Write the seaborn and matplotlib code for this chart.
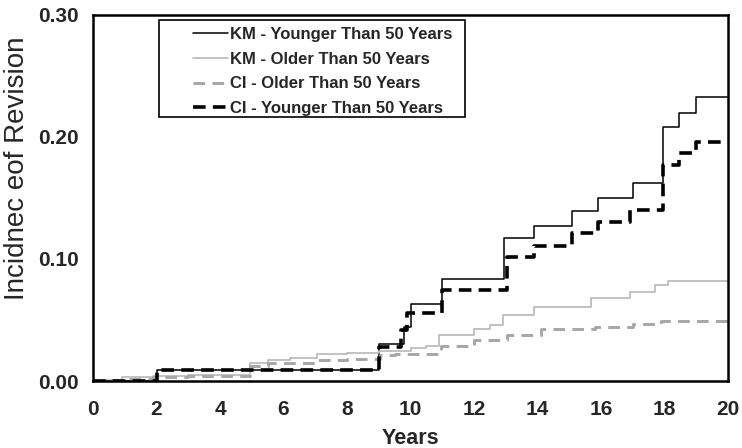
import matplotlib
matplotlib.use("Agg")
import matplotlib.pyplot as plt
import seaborn as sns
import pandas as pd
from matplotlib.patches import Rectangle

# step curves (years, incidence)
km_young_x = [0, 2.0, 9.0, 9.8, 10.0, 11.0, 12.95, 13.9, 15.1, 15.9, 17.0, 17.95, 18.45, 19.0, 20]
km_young_y = [0, 0.009, 0.030, 0.044, 0.063, 0.084, 0.117, 0.127, 0.139, 0.150, 0.162, 0.208, 0.220, 0.233, 0.233]

km_old_x = [0, 0.3, 0.9, 1.9, 3.0, 4.95, 5.5, 6.2, 7.05, 8.0, 9.0, 10.0, 10.5, 10.9, 12.0, 12.5, 12.9, 13.9, 15.7, 16.9, 17.7, 18.1, 20]
km_old_y = [0, 0.001, 0.003, 0.004, 0.005, 0.015, 0.017, 0.019, 0.022, 0.023, 0.025, 0.027, 0.029, 0.038, 0.043, 0.046, 0.054, 0.061, 0.068, 0.073, 0.079, 0.082, 0.082]

ci_old_x = [0, 0.3, 0.9, 1.9, 3.0, 4.95, 5.5, 7.0, 8.0, 9.05, 9.5, 10.95, 12.0, 13.05, 14.1, 15.8, 17.0, 17.9, 20]
ci_old_y = [0, 0.001, 0.002, 0.003, 0.004, 0.012, 0.015, 0.017, 0.018, 0.021, 0.022, 0.029, 0.034, 0.038, 0.043, 0.044, 0.047, 0.049, 0.049]

ci_young_x = [0, 2.0, 9.0, 9.7, 9.9, 11.0, 13.05, 13.9, 15.1, 15.9, 16.9, 17.95, 18.45, 19.0, 20]
ci_young_y = [0, 0.009, 0.028, 0.042, 0.056, 0.075, 0.102, 0.111, 0.121, 0.130, 0.140, 0.177, 0.187, 0.196, 0.196]

labels = ["KM - Younger Than 50 Years", "KM - Older Than 50 Years",
          "CI - Older Than 50 Years", "CI - Younger Than 50 Years"]

sns.set_style("white")
plt.rcParams["font.family"] = ["Liberation Sans", "DejaVu Sans"]

fig = plt.figure(figsize=(7.42, 4.48), dpi=100)
ax = fig.add_axes([93 / 742, 1 - 381 / 448, 635 / 742, 366 / 448])

series = [
    (km_young_x, km_young_y, dict(color="black", lw=1.1)),
    (km_old_x, km_old_y, dict(color="#b8b8b8", lw=1.2)),
    (ci_old_x, ci_old_y, dict(color="#a6a6a6", lw=2.1, dashes=(4, 2.5))),
    (ci_young_x, ci_young_y, dict(color="black", lw=2.6, dashes=(3.5, 2))),
]

for (xs, ys, st), lab in zip(series, labels):
    df = pd.DataFrame({"Years": xs, "Incidence": ys})
    sns.lineplot(data=df, x="Years", y="Incidence", ax=ax, drawstyle="steps-post",
                 estimator=None, sort=False, label=lab, color=st["color"], lw=st["lw"])
    if "dashes" in st:
        ax.lines[-1].set_dashes(st["dashes"])

ax.set_xlim(0, 20)
ax.set_ylim(0, 0.30)
ax.set_xticks(range(0, 21, 2))
ax.set_yticks([0, 0.1, 0.2, 0.3])
ax.set_yticklabels(["0.00", "0.10", "0.20", "0.30"])
ax.tick_params(direction="in", length=6, width=1.5, labelsize=15)
ax.tick_params(axis="x", pad=14)
ax.tick_params(axis="y", pad=10)
for t in ax.get_xticklabels() + ax.get_yticklabels():
    t.set_fontweight("bold")
for s in ax.spines.values():
    s.set_color("black")
    s.set_linewidth(1.8)

ax.set_xlabel("Years", fontsize=15.5, fontweight="bold", labelpad=6)
ax.set_ylabel("Incidnec eof Revision", fontsize=20)
ax.yaxis.set_label_coords(-0.099, 0.582)

# legend without its own frame, box drawn separately (reference has wide left margin)
leg = ax.legend(loc="upper left", bbox_to_anchor=(0.157, 0.967), frameon=False,
                prop={"weight": "bold", "size": 12}, handlelength=2.1,
                handletextpad=0.12, labelspacing=0.58, borderpad=0, borderaxespad=0)
ax.add_patch(Rectangle((0.104, 0.721), 0.482, 0.265, transform=ax.transAxes,
                       fill=False, edgecolor="black", lw=1.2, zorder=5))

fig.savefig("out.png", dpi=100)
